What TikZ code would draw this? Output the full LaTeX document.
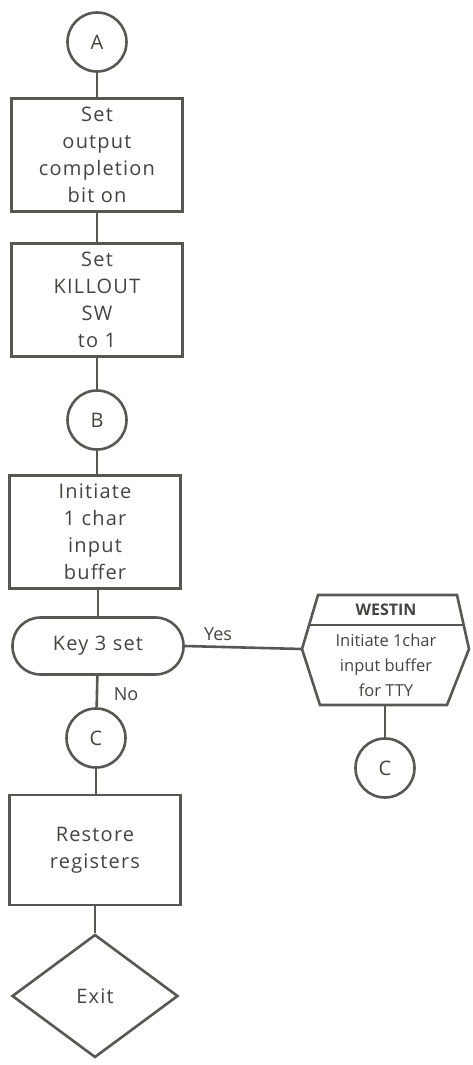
\documentclass[tikz,border=0pt]{standalone}
\usepackage{xcolor}
\usepackage{fontspec}
\setmainfont{Open Sans}
\usetikzlibrary{shapes.geometric}
\definecolor{ink}{RGB}{88,88,82}
\definecolor{pen}{RGB}{68,68,62}

\begin{document}
\begin{tikzpicture}[x=1pt,y=-1pt]
    \tikzstyle{conn}=[draw=ink,line width=2.6pt,circle,minimum size=59pt,inner sep=0pt,text=pen,font=\fontsize{20}{25}\selectfont]
    \tikzstyle{box}=[draw=ink,line width=2.6pt,rectangle,minimum width=171pt,minimum height=113pt,inner sep=0pt,align=center,text=pen,font=\fontsize{20}{27}\selectfont\addfontfeatures{LetterSpace=6}]
    \tikzstyle{line}=[draw=ink,line width=2.6pt]
    \tikzstyle{lab}=[text=pen,font=\fontsize{18}{20}\selectfont]

    \useasboundingbox (0,0) rectangle (472,1065);

    % Main column
    \node [conn] (A) at (97, 42) {A};
    \node [box]  (setbit) at (97, 155) {Set\\output\\completion\\bit on};
    \node [box]  (killout) at (97, 300) {Set\\KILLOUT\\SW\\to 1};
    \node [conn] (B) at (97, 420) {B};
    \node [box]  (initbuf) at (95, 532) {Initiate\\1 char\\input\\buffer};
    \node [box, rounded corners=28pt, minimum height=57pt] (key) at (98, 646) {Key 3 set};
    \node [conn] (C1) at (96, 738) {C};
    \node [box, minimum height=110pt] (restore) at (95, 850) {Restore\\registers};
    \node [box, diamond, minimum width=166pt, minimum height=123pt] (exit) at (95, 996) {Exit};

    % WESTIN block
    \draw [line] (318,595) -- (457,595) -- (469,649) -- (447,705)
        -- (320,705) -- (302,649) -- cycle;
    \draw [line] (309,625) -- (464,625);
    \coordinate (westinL) at (302,649);
    \coordinate (westinB) at (385,705);
    \node [lab, font=\fontsize{16}{18}\selectfont\bfseries] (westin) at (386, 610) {WESTIN};
    \node [lab, align=center, font=\fontsize{16.5}{25}\selectfont] (westintxt) at (386, 665)
        {Initiate 1char\\input buffer\\for TTY};
    \node [conn] (C2) at (385, 768) {C};

    % Connectors
    \draw [line] (A) -- (setbit);
    \draw [line] (setbit) -- (killout);
    \draw [line] (killout) -- (B);
    \draw [line] (B) -- (initbuf.north -| B);
    \draw [line] (initbuf.south -| key) -- (key);
    \draw [line] (key.east) -- (westinL);
    \draw [line] (key) -- (C1);
    \draw [line] (C1) -- (restore.north -| C1);
    \draw [line] (restore.south -| exit) -- (exit);
    \draw [line] (westinB) -- (C2);

    \node [lab] (yes) at (218, 634) {Yes};
    \node [lab] (no) at (126, 694) {No};
\end{tikzpicture}
\end{document}
